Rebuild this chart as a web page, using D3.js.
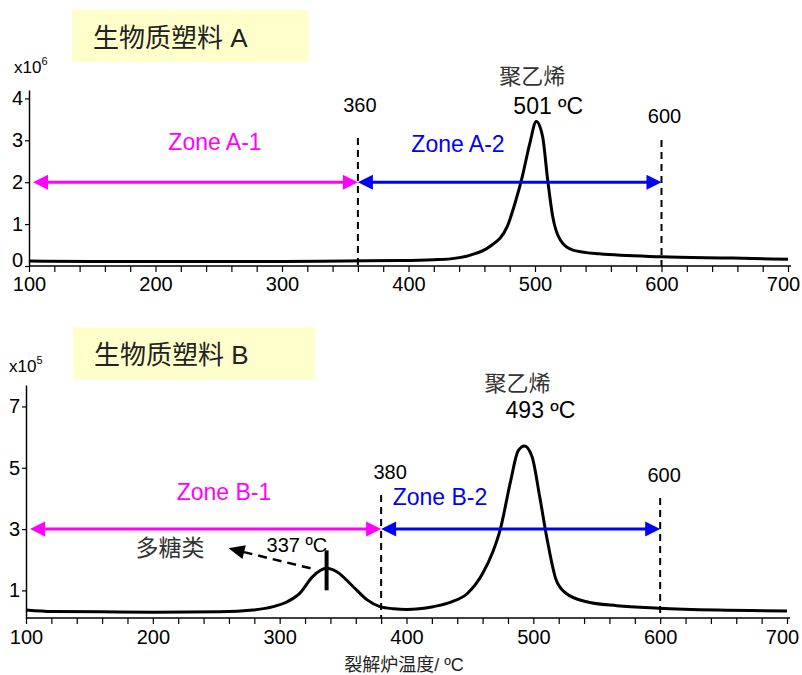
<!DOCTYPE html>
<html>
<head>
<meta charset="utf-8">
<script src="https://cdn.jsdelivr.net/npm/d3@7"></script>
<style>
  body { margin: 0; background: #fff; }
  text { font-family: "Liberation Sans", Arial, "Noto Sans CJK SC", sans-serif; }
  .cjk { font-family: "Liberation Sans", "Noto Sans CJK SC", sans-serif; }
</style>
</head>
<body>
<svg id="chart" width="802" height="675"></svg>
<script>
// panel A : 温度 / signal (x10^6)
const tempA   = [100,150,200,250,300,350,393,420,433,449,464,478,485,490,496,501,506,510,514,520,530,551,600,656,700];
const signalA = [0.12,0.11,0.11,0.11,0.11,0.12,0.13,0.15,0.17,0.26,0.46,0.94,1.58,2.14,2.94,3.45,3.09,2.06,1.18,0.62,0.38,0.29,0.22,0.19,0.16];

// panel B : 温度 / signal (x10^5)
const tempB   = [100,121,160,200,253,279,295,306,316,326,337,345,358,369,379,390,400,410,421,435,448,460,468,474,482,488,493,499,505,511,518,526,542,566,599,645,700];
const signalB = [0.36,0.31,0.30,0.29,0.30,0.36,0.47,0.63,0.91,1.45,1.72,1.61,1.12,0.69,0.47,0.40,0.38,0.40,0.47,0.62,0.90,1.55,2.25,3.0,4.55,5.55,5.71,5.36,4.06,2.64,1.34,0.90,0.63,0.50,0.42,0.36,0.33];

const xTicks  = [100,200,300,400,500,600,700];
const yTicksA = [0,1,2,3,4];
const yTicksB = [1,3,5,7];
const zonesA  = [100,360,600];
const zonesB  = [100,380,600];
const peaksA  = [501];
const peaksB  = [337,493];

var svg = d3.select("#chart");

function drawArrow(g, x1, x2, y, color) {
  var h = 15, w = 7.5;
  g.append("line")
    .attr("x1", x1 + h - 1).attr("x2", x2 - h + 1)
    .attr("y1", y).attr("y2", y)
    .attr("stroke", color).attr("stroke-width", 3);
  g.append("path").attr("d", `M${x1},${y}L${x1+h},${y-w}L${x1+h},${y+w}Z`).attr("fill", color);
  g.append("path").attr("d", `M${x2},${y}L${x2-h},${y-w}L${x2-h},${y+w}Z`).attr("fill", color);
}

function drawPanel(opt) {
  var x = d3.scaleLinear().domain([100, 700]).range(opt.xr);
  var y = d3.scaleLinear().domain(opt.yd).range(opt.yr);
  var g = svg.append("g");

  // title box
  g.append("rect")
    .attr("x", opt.box[0]).attr("y", opt.box[1])
    .attr("width", opt.box[2]).attr("height", opt.box[3])
    .attr("fill", "#ffffcc");
  g.append("text").attr("class", "cjk")
    .attr("x", opt.box[0] + 21).attr("y", opt.box[1] + 37)
    .attr("font-size", 26).attr("fill", "#222")
    .text(opt.title);

  // axes
  var xAxis = d3.axisBottom(x)
    .tickValues(d3.range(100, 701, 20))
    .tickSize(6).tickSizeOuter(0).tickPadding(opt.xpad)
    .tickFormat(d => xTicks.includes(d) ? d : "");
  var gx = g.append("g").attr("transform", `translate(0,${opt.yr[0]})`).call(xAxis);
  gx.selectAll("text").attr("font-size", 20).attr("fill", "#000")
    .attr("dx", d => d === 700 ? -5 : 0);

  var yAxis = d3.axisLeft(y).tickValues(opt.yTicks).tickSize(4).tickSizeOuter(0).tickPadding(2)
    .tickFormat(d3.format("d"));
  var gy = g.append("g").attr("transform", `translate(${opt.xr[0]},0)`).call(yAxis);
  gy.selectAll("text").attr("font-size", 20).attr("fill", "#000")
    .attr("y", d => d === 0 ? -6 : 0);
  [gx, gy].forEach(a => {
    a.select(".domain").attr("stroke", "#000").attr("stroke-width", 1.5);
    a.selectAll(".tick line").attr("stroke", "#000").attr("stroke-width", 1.2);
    a.attr("font-family", null);
  });
  // extend x axis line a little past 700
  gx.select(".domain").attr("d", `M${opt.xr[0]},0H${opt.xr[1] + 3}`);

  // unit
  var u = g.append("text").attr("x", opt.unit[0]).attr("y", opt.unit[1]).attr("font-size", 17).attr("fill", "#000");
  u.append("tspan").text("x10");
  u.append("tspan").attr("font-size", 11).attr("dy", -8).text(opt.exp);

  // curve
  var line = d3.line().x(d => x(d[0])).y(d => y(d[1])).curve(d3.curveMonotoneX);
  g.append("path")
    .datum(d3.zip(opt.temps, opt.values))
    .attr("d", line)
    .attr("fill", "none").attr("stroke", "#000").attr("stroke-width", 3)
    .attr("stroke-linejoin", "round");

  // zone borders
  opt.zones.slice(1).forEach((z, i) => {
    g.append("line")
      .attr("x1", x(z)).attr("x2", x(z))
      .attr("y1", opt.dashTop[i]).attr("y2", opt.yr[0])
      .attr("stroke", "#000").attr("stroke-width", 2).attr("stroke-dasharray", "7,5");
    g.append("text")
      .attr("x", x(z) + opt.dashLabelDx[i]).attr("y", opt.dashTop[i] - 26 + opt.dashLabelDy[i])
      .attr("text-anchor", "middle").attr("font-size", 20).attr("fill", "#000")
      .text(z);
  });

  var ay = y(opt.arrowVal);
  drawArrow(g, x(opt.zones[0]) + 4, x(opt.zones[1]), ay, "#ff00ff");
  drawArrow(g, x(opt.zones[1]), x(opt.zones[2]), ay, "#0000ff");

  g.append("text").attr("x", opt.zoneLab[0][0]).attr("y", opt.zoneLab[0][1])
    .attr("font-size", 23).attr("fill", "#ff00ff").attr("text-anchor", "middle").text(opt.zoneNames[0]);
  g.append("text").attr("x", opt.zoneLab[1][0]).attr("y", opt.zoneLab[1][1])
    .attr("font-size", 23).attr("fill", "#0000ff").attr("text-anchor", "middle").text(opt.zoneNames[1]);

  // main peak labels
  var pk = opt.peaks[opt.peaks.length - 1];
  g.append("text").attr("class", "cjk")
    .attr("x", x(pk) + opt.peLab[0]).attr("y", opt.peLab[1])
    .attr("text-anchor", "middle").attr("font-size", 22).attr("fill", "#333")
    .text("聚乙烯");
  g.append("text")
    .attr("x", x(pk) + opt.peLab[2]).attr("y", opt.peLab[3])
    .attr("text-anchor", "middle").attr("font-size", 23).attr("fill", "#000")
    .text(pk + " ºC");

  return { g: g, x: x, y: y };
}

drawPanel({
  xr: [29, 788], yd: [0, 4.2], yr: [266, 90], xpad: 5,
  box: [72, 10, 237, 52], title: "生物质塑料 A",
  yTicks: yTicksA, unit: [14, 73], exp: "6",
  temps: tempA, values: signalA,
  zones: zonesA, dashTop: [138, 140], dashLabelDx: [2, 3], dashLabelDy: [0, 9],
  arrowVal: 2, zoneNames: ["Zone A-1", "Zone A-2"], zoneLab: [[215, 150], [458, 152]],
  peaks: peaksA, peLab: [-4, 84, 12, 114]
});

var pB = drawPanel({
  xr: [26, 787], yd: [0.1, 7.7], yr: [618, 385], xpad: 6,
  box: [73, 327, 242, 53], title: "生物质塑料 B",
  yTicks: yTicksB, unit: [9, 372], exp: "5",
  temps: tempB, values: signalB,
  zones: zonesB, dashTop: [495, 498], dashLabelDx: [9, 4], dashLabelDy: [10, 10],
  arrowVal: 3, zoneNames: ["Zone B-1", "Zone B-2"], zoneLab: [[224, 500], [440, 505]],
  peaks: peaksB, peLab: [-7, 391, 16, 418]
});

// 多糖类 peak marker (panel B)
var px = pB.x(peaksB[0]), py = pB.y(signalB[tempB.indexOf(peaksB[0])]);
pB.g.append("line")
  .attr("x1", px).attr("x2", px).attr("y1", py - 18).attr("y2", py + 22)
  .attr("stroke", "#000").attr("stroke-width", 4);
pB.g.append("text")
  .attr("x", px - 60).attr("y", py - 16)
  .attr("font-size", 20).attr("fill", "#000")
  .text(peaksB[0] + " ºC");
var tx = px - 16, ty = py, hx = px - 98, hy = py - 20;
var ang = Math.atan2(hy - ty, hx - tx), hl = 16, hw = 7;
var bx = hx - hl * Math.cos(ang), by = hy - hl * Math.sin(ang);
pB.g.append("line")
  .attr("x1", tx).attr("y1", ty).attr("x2", bx).attr("y2", by)
  .attr("stroke", "#000").attr("stroke-width", 2.5).attr("stroke-dasharray", "9,6");
pB.g.append("path")
  .attr("d", `M${hx},${hy}L${bx + hw * Math.sin(ang)},${by - hw * Math.cos(ang)}L${bx - hw * Math.sin(ang)},${by + hw * Math.cos(ang)}Z`)
  .attr("fill", "#000");
pB.g.append("text").attr("class", "cjk")
  .attr("x", hx - 93).attr("y", hy + 8)
  .attr("font-size", 23).attr("fill", "#333")
  .text("多糖类");

// x axis title
svg.append("text").attr("class", "cjk")
  .attr("x", 404).attr("y", 671)
  .attr("text-anchor", "middle").attr("font-size", 18).attr("fill", "#222")
  .text("裂解炉温度/ ºC");
</script>
</body>
</html>
